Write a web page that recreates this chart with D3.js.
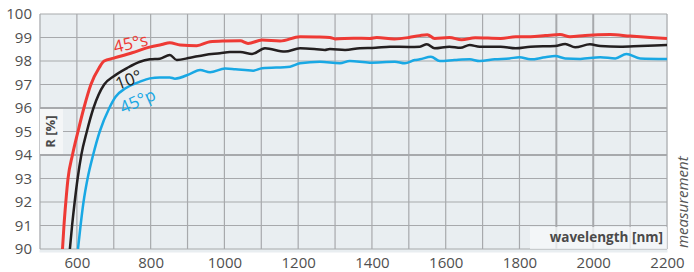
<!DOCTYPE html>
<html>
<head>
<meta charset="utf-8">
<script src="https://cdn.jsdelivr.net/npm/d3@7"></script>
<style>
  body { margin: 0; background: #fff; }
  text { font-family: "Open Sans", sans-serif; }
</style>
</head>
<body>
<script>
// 45°s reflectance
const wlS = [561, 565, 570, 576, 588, 603, 619, 638, 660, 674, 700, 750, 800, 830, 852, 880, 925, 961, 1000, 1043, 1064, 1102, 1151, 1205, 1250, 1286, 1300, 1350, 1394, 1413, 1461, 1500, 1529, 1550, 1570, 1610, 1643, 1680, 1749, 1790, 1830, 1870, 1910, 1937, 1978, 2046, 2100, 2155, 2200];
const rS = [90, 91, 92, 93, 94, 95, 96, 97, 97.7, 98.0, 98.12, 98.35, 98.6, 98.7, 98.78, 98.68, 98.65, 98.82, 98.85, 98.86, 98.75, 98.89, 98.85, 99.03, 99.02, 99.0, 98.94, 98.97, 98.96, 99.0, 98.94, 99.0, 99.08, 99.12, 98.96, 99.0, 98.9, 98.99, 98.96, 99.03, 99.03, 99.08, 99.13, 99.03, 99.09, 99.13, 99.06, 99.0, 98.96];

// 10° reflectance
const wl10 = [581, 587, 594, 602, 612, 627, 645, 674, 700, 736, 771, 798, 825, 852, 871, 907, 947, 988, 1015, 1043, 1075, 1110, 1164, 1205, 1250, 1272, 1286, 1327, 1367, 1410, 1449, 1500, 1530, 1549, 1570, 1610, 1640, 1665, 1692, 1749, 1790, 1830, 1897, 1924, 1951, 1991, 2019, 2073, 2127, 2200];
const r10 = [90, 91, 92, 93, 94, 95, 96, 97, 97.35, 97.7, 97.97, 98.07, 98.1, 98.26, 98.04, 98.14, 98.26, 98.33, 98.38, 98.38, 98.3, 98.54, 98.4, 98.54, 98.5, 98.47, 98.51, 98.47, 98.54, 98.56, 98.61, 98.6, 98.61, 98.71, 98.54, 98.61, 98.56, 98.68, 98.61, 98.61, 98.54, 98.61, 98.64, 98.72, 98.58, 98.71, 98.64, 98.61, 98.64, 98.68];

// 45°p reflectance
const wlP = [603, 610, 618, 629, 644, 662, 688, 705, 732, 771, 798, 825, 852, 866, 907, 934, 961, 1002, 1030, 1056, 1078, 1102, 1178, 1205, 1259, 1313, 1340, 1394, 1462, 1489, 1516, 1530, 1560, 1584, 1624, 1665, 1692, 1733, 1773, 1800, 1830, 1870, 1897, 1924, 1965, 2019, 2060, 2090, 2127, 2200];
const rP = [90, 91, 92, 93, 94, 95, 96, 96.48, 96.84, 97.12, 97.26, 97.3, 97.3, 97.25, 97.45, 97.62, 97.52, 97.68, 97.65, 97.62, 97.59, 97.69, 97.76, 97.9, 97.97, 97.9, 98.0, 97.93, 97.97, 97.9, 98.04, 98.07, 98.18, 98.0, 98.04, 98.07, 98.0, 98.07, 98.11, 98.16, 98.07, 98.16, 98.21, 98.11, 98.09, 98.16, 98.11, 98.3, 98.11, 98.09];

const xTicks = [600, 800, 1000, 1200, 1400, 1600, 1800, 2000, 2200];
const yTicks = [90, 91, 92, 93, 94, 95, 96, 97, 98, 99, 100];

const svg = d3.select("body").append("svg")
    .attr("width", 694)
    .attr("height", 272);

const x = d3.scaleLinear().domain([500, 2200]).range([40, 667]);
const y = d3.scaleLinear().domain([90, 100]).range([249, 14]);

// plot background
svg.append("rect")
    .attr("x", 39.5).attr("y", 14)
    .attr("width", 628).attr("height", 238.5)
    .attr("fill", "#e9eef1");

const grid = svg.append("g").attr("stroke", "#a7a9ac").attr("fill", "none");

d3.range(500, 2201, 100).forEach(v => {
    grid.append("line")
        .attr("x1", x(v)).attr("x2", x(v))
        .attr("y1", y(100)).attr("y2", y(90))
        .attr("stroke-width", (v === 1900 || v === 2000) ? 2 : 1.2);
});
yTicks.forEach(v => {
    grid.append("line")
        .attr("x1", x(500)).attr("x2", x(2200))
        .attr("y1", y(v)).attr("y2", y(v))
        .attr("stroke-width", (v === 94 || v === 96) ? 2 : 1.2);
});

// axis labels (no domain lines)
const xAxis = svg.append("g")
    .attr("transform", "translate(0,249)")
    .call(d3.axisBottom(x).tickValues(xTicks).tickFormat(d3.format("d")).tickSize(0).tickPadding(8));
const yAxis = svg.append("g")
    .attr("transform", "translate(40,0)")
    .call(d3.axisLeft(y).tickValues(yTicks).tickSize(0).tickPadding(8));
[xAxis, yAxis].forEach(a => {
    a.select(".domain").remove();
    a.selectAll("text")
        .attr("fill", "#4f4f4f")
        .style("font-family", "'Open Sans', sans-serif")
        .style("font-size", "15px");
});

// y label box
svg.append("rect")
    .attr("x", 40).attr("y", y(96) + 1)
    .attr("width", 23).attr("height", y(94) - y(96) - 2)
    .attr("fill", "#f4f6f7");
svg.append("text")
    .attr("transform", `translate(55,${(y(96) + y(94)) / 2}) rotate(-90)`)
    .attr("text-anchor", "middle")
    .attr("fill", "#4a4a4a")
    .attr("font-weight", "bold")
    .attr("font-size", 13)
    .text("R [%]");

// curves, clipped to plot
svg.append("clipPath").attr("id", "clip")
    .append("rect")
    .attr("x", 40).attr("y", 14)
    .attr("width", 627).attr("height", 235);

const line = d3.line()
    .x(d => x(d[0]))
    .y(d => y(d[1]))
    .curve(d3.curveMonotoneX);

const series = [
    { wl: wlP, r: rP, color: "#19a8e4", width: 2.5 },
    { wl: wl10, r: r10, color: "#231f20", width: 2.5 },
    { wl: wlS, r: rS, color: "#ee3a35", width: 3 }
];

series.forEach(s => {
    svg.append("path")
        .datum(d3.zip(s.wl, s.r))
        .attr("clip-path", "url(#clip)")
        .attr("fill", "none")
        .attr("stroke", s.color)
        .attr("stroke-width", s.width)
        .attr("stroke-linejoin", "round")
        .attr("d", line);
});

// curve labels
svg.append("text")
    .attr("transform", "translate(115,53) rotate(-13)")
    .attr("fill", "#ee3a35").attr("font-size", 17)
    .text("45°s");
svg.append("text")
    .attr("transform", "translate(118,90) rotate(-20)")
    .attr("fill", "#231f20").attr("font-size", 17)
    .text("10°");
svg.append("text")
    .attr("transform", "translate(123,114) rotate(-24)")
    .attr("fill", "#19a8e4").attr("font-size", 17)
    .text("45°p");

// x label box
svg.append("rect")
    .attr("x", 530).attr("y", 227)
    .attr("width", 137).attr("height", 22)
    .attr("fill", "#f6f8f9")
    .attr("fill-opacity", 0.75);
svg.append("text")
    .attr("x", 663).attr("y", 242)
    .attr("text-anchor", "end")
    .attr("fill", "#4a4a4a")
    .attr("font-weight", "bold")
    .attr("font-size", 13.5)
    .text("wavelength [nm]");

svg.append("text")
    .attr("transform", "translate(688,248) rotate(-90)")
    .attr("fill", "#555")
    .attr("font-style", "italic")
    .attr("font-size", 15)
    .text("measurement");
</script>
</body>
</html>
